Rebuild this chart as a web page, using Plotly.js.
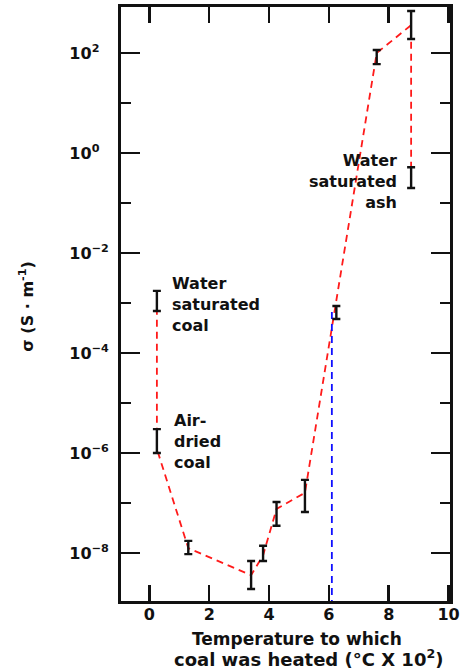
<!DOCTYPE html>
<html>
<head>
<meta charset="utf-8">
<script src="https://cdn.plot.ly/plotly-3.0.1.min.js"></script>
<style>
  html, body { margin: 0; padding: 0; background: #ffffff; }
  #chart { width: 465px; height: 671px; }
</style>
</head>
<body>
<div id="chart"></div>
<script>
// Temperature the coal was heated to (°C × 10²) and measured conductivity σ (S·m⁻¹)
const temp      = [0.25, 0.25, 1.3, 3.4, 3.8, 4.25, 5.2, 6.25, 7.6, 8.75, 8.75];
const sigma     = [8e-4, 1.2e-6, 1.25e-8, 3.6e-9, 9e-9, 7.6e-8, 1.6e-7, 6.6e-4, 100, 360, 0.33];
const sigmaHigh = [1.75e-3, 3.0e-6, 1.75e-8, 6.9e-9, 1.4e-8, 1.05e-7, 2.9e-7, 8.7e-4, 115, 690, 0.52];
const sigmaLow  = [6.9e-4, 1.0e-6, 9.5e-9, 1.9e-9, 6.9e-9, 3.5e-8, 6.6e-8, 4.8e-4, 60, 190, 0.2];

// the 600 °C sample is marked separately by a vertical line to the axis
const markedIndex = 7;
const trendIdx = temp.map((_, i) => i).filter(i => i !== markedIndex);

// axis ticks
const xTicks = [0, 2, 4, 6, 8, 10];
const yTickVals = [1e-8, 1e-6, 1e-4, 1e-2, 1e0, 1e2];
const yTickExp = ['−8', '−6', '−4', '−2', '0', '2'];
const yMinorVals = [1e-9, 1e-7, 1e-5, 1e-3, 1e-1, 1e1];

const FONT = 'DejaVu Sans, Arial, sans-serif';
// invisible minus keeps the "10" of every label in one column
const ghost = "<span style='color:rgba(0,0,0,0)'>−</span>";
const yTickText = yTickExp.map(e => e.startsWith('−')
  ? '10<sup>' + e + '</sup>'
  : '10<sup>' + e + ghost + '</sup>');

const trend = {
  x: trendIdx.map(i => temp[i]),
  y: trendIdx.map(i => sigma[i]),
  mode: 'lines',
  line: { color: '#ff1a1a', width: 1.8, dash: '7px,5px' },
  hoverinfo: 'skip',
  showlegend: false
};

const marker600 = {
  x: [6.1, 6.1],
  y: [sigma[markedIndex], 1e-9],
  mode: 'lines',
  line: { color: '#1010ff', width: 1.8, dash: '7px,5px' },
  hoverinfo: 'skip',
  showlegend: false
};

const bars = {
  x: temp,
  y: sigma,
  mode: 'markers',
  marker: { size: 1, color: 'rgba(0,0,0,0)' },
  error_y: {
    type: 'data',
    symmetric: false,
    array: sigma.map((v, i) => sigmaHigh[i] - v),
    arrayminus: sigma.map((v, i) => v - sigmaLow[i]),
    color: '#111111',
    thickness: 2.4,
    width: 4
  },
  showlegend: false
};

const textFont = { family: FONT, size: 16, color: '#111111', weight: 700 };

const layout = {
  width: 465,
  height: 671,
  margin: { l: 121, r: 15, t: 7, b: 70 },
  paper_bgcolor: '#ffffff',
  plot_bgcolor: '#ffffff',
  showlegend: false,
  xaxis: {
    range: [-0.95, 10.05],
    tickmode: 'array',
    tickvals: xTicks,
    ticktext: xTicks.map(String),
    ticks: 'inside',
    ticklen: 16,
    tickwidth: 2.5,
    tickcolor: '#111111',
    showline: true,
    linewidth: 3,
    linecolor: '#111111',
    mirror: 'ticks',
    showgrid: false,
    zeroline: false,
    ticklabelstandoff: -3,
    tickfont: { family: FONT, size: 16, color: '#111111', weight: 700 }
  },
  yaxis: {
    type: 'log',
    range: [-8.96, 2.92],
    tickmode: 'array',
    tickvals: yTickVals,
    ticktext: yTickText,
    ticks: 'inside',
    ticklen: 19,
    tickwidth: 2.5,
    tickcolor: '#111111',
    minor: {
      tickmode: 'array',
      tickvals: yMinorVals,
      ticks: 'inside',
      ticklen: 10,
      tickwidth: 2.5,
      tickcolor: '#111111',
      showgrid: false
    },
    showline: true,
    linewidth: 3,
    linecolor: '#111111',
    mirror: 'ticks',
    showgrid: false,
    zeroline: false,
    ticklabelstandoff: 6,
    tickfont: { family: FONT, size: 16, color: '#111111', weight: 700 }
  },
  annotations: [
    {
      text: 'Water<br>saturated<br>coal',
      xref: 'x', yref: 'y', x: 0.68, y: -3.02,
      xanchor: 'left', yanchor: 'middle', align: 'left',
      showarrow: false, font: textFont
    },
    {
      text: 'Air-<br>dried<br>coal',
      xref: 'x', yref: 'y', x: 0.75, y: -5.76,
      xanchor: 'left', yanchor: 'middle', align: 'left',
      showarrow: false, font: textFont
    },
    {
      text: 'Water<br>saturated<br>ash',
      xref: 'x', yref: 'y', x: 8.34, y: -0.56,
      xanchor: 'right', yanchor: 'middle', align: 'right',
      showarrow: false, font: textFont
    },
    {
      text: 'σ (S · m<sup>-1</sup>)',
      xref: 'paper', yref: 'paper', x: -0.286, y: 0.497,
      xanchor: 'center', yanchor: 'middle', textangle: -90,
      showarrow: false, font: { family: FONT, size: 16, color: '#111111', weight: 700 }
    },
    {
      text: 'Temperature to which',
      xref: 'paper', yref: 'paper', x: 0.535, y: -0.0635,
      xanchor: 'center', yanchor: 'middle',
      showarrow: false, font: { family: FONT, size: 17, color: '#111111', weight: 700 }
    },
    {
      text: 'coal was heated&nbsp;(°C&nbsp;X&nbsp;10<sup>2</sup>)',
      xref: 'paper', yref: 'paper', x: 0.571, y: -0.096,
      xanchor: 'center', yanchor: 'middle',
      showarrow: false, font: { family: FONT, size: 18, color: '#111111', weight: 700 }
    }
  ]
};

Plotly.newPlot('chart', [trend, marker600, bars], layout, { displayModeBar: false, staticPlot: true });
</script>
</body>
</html>
